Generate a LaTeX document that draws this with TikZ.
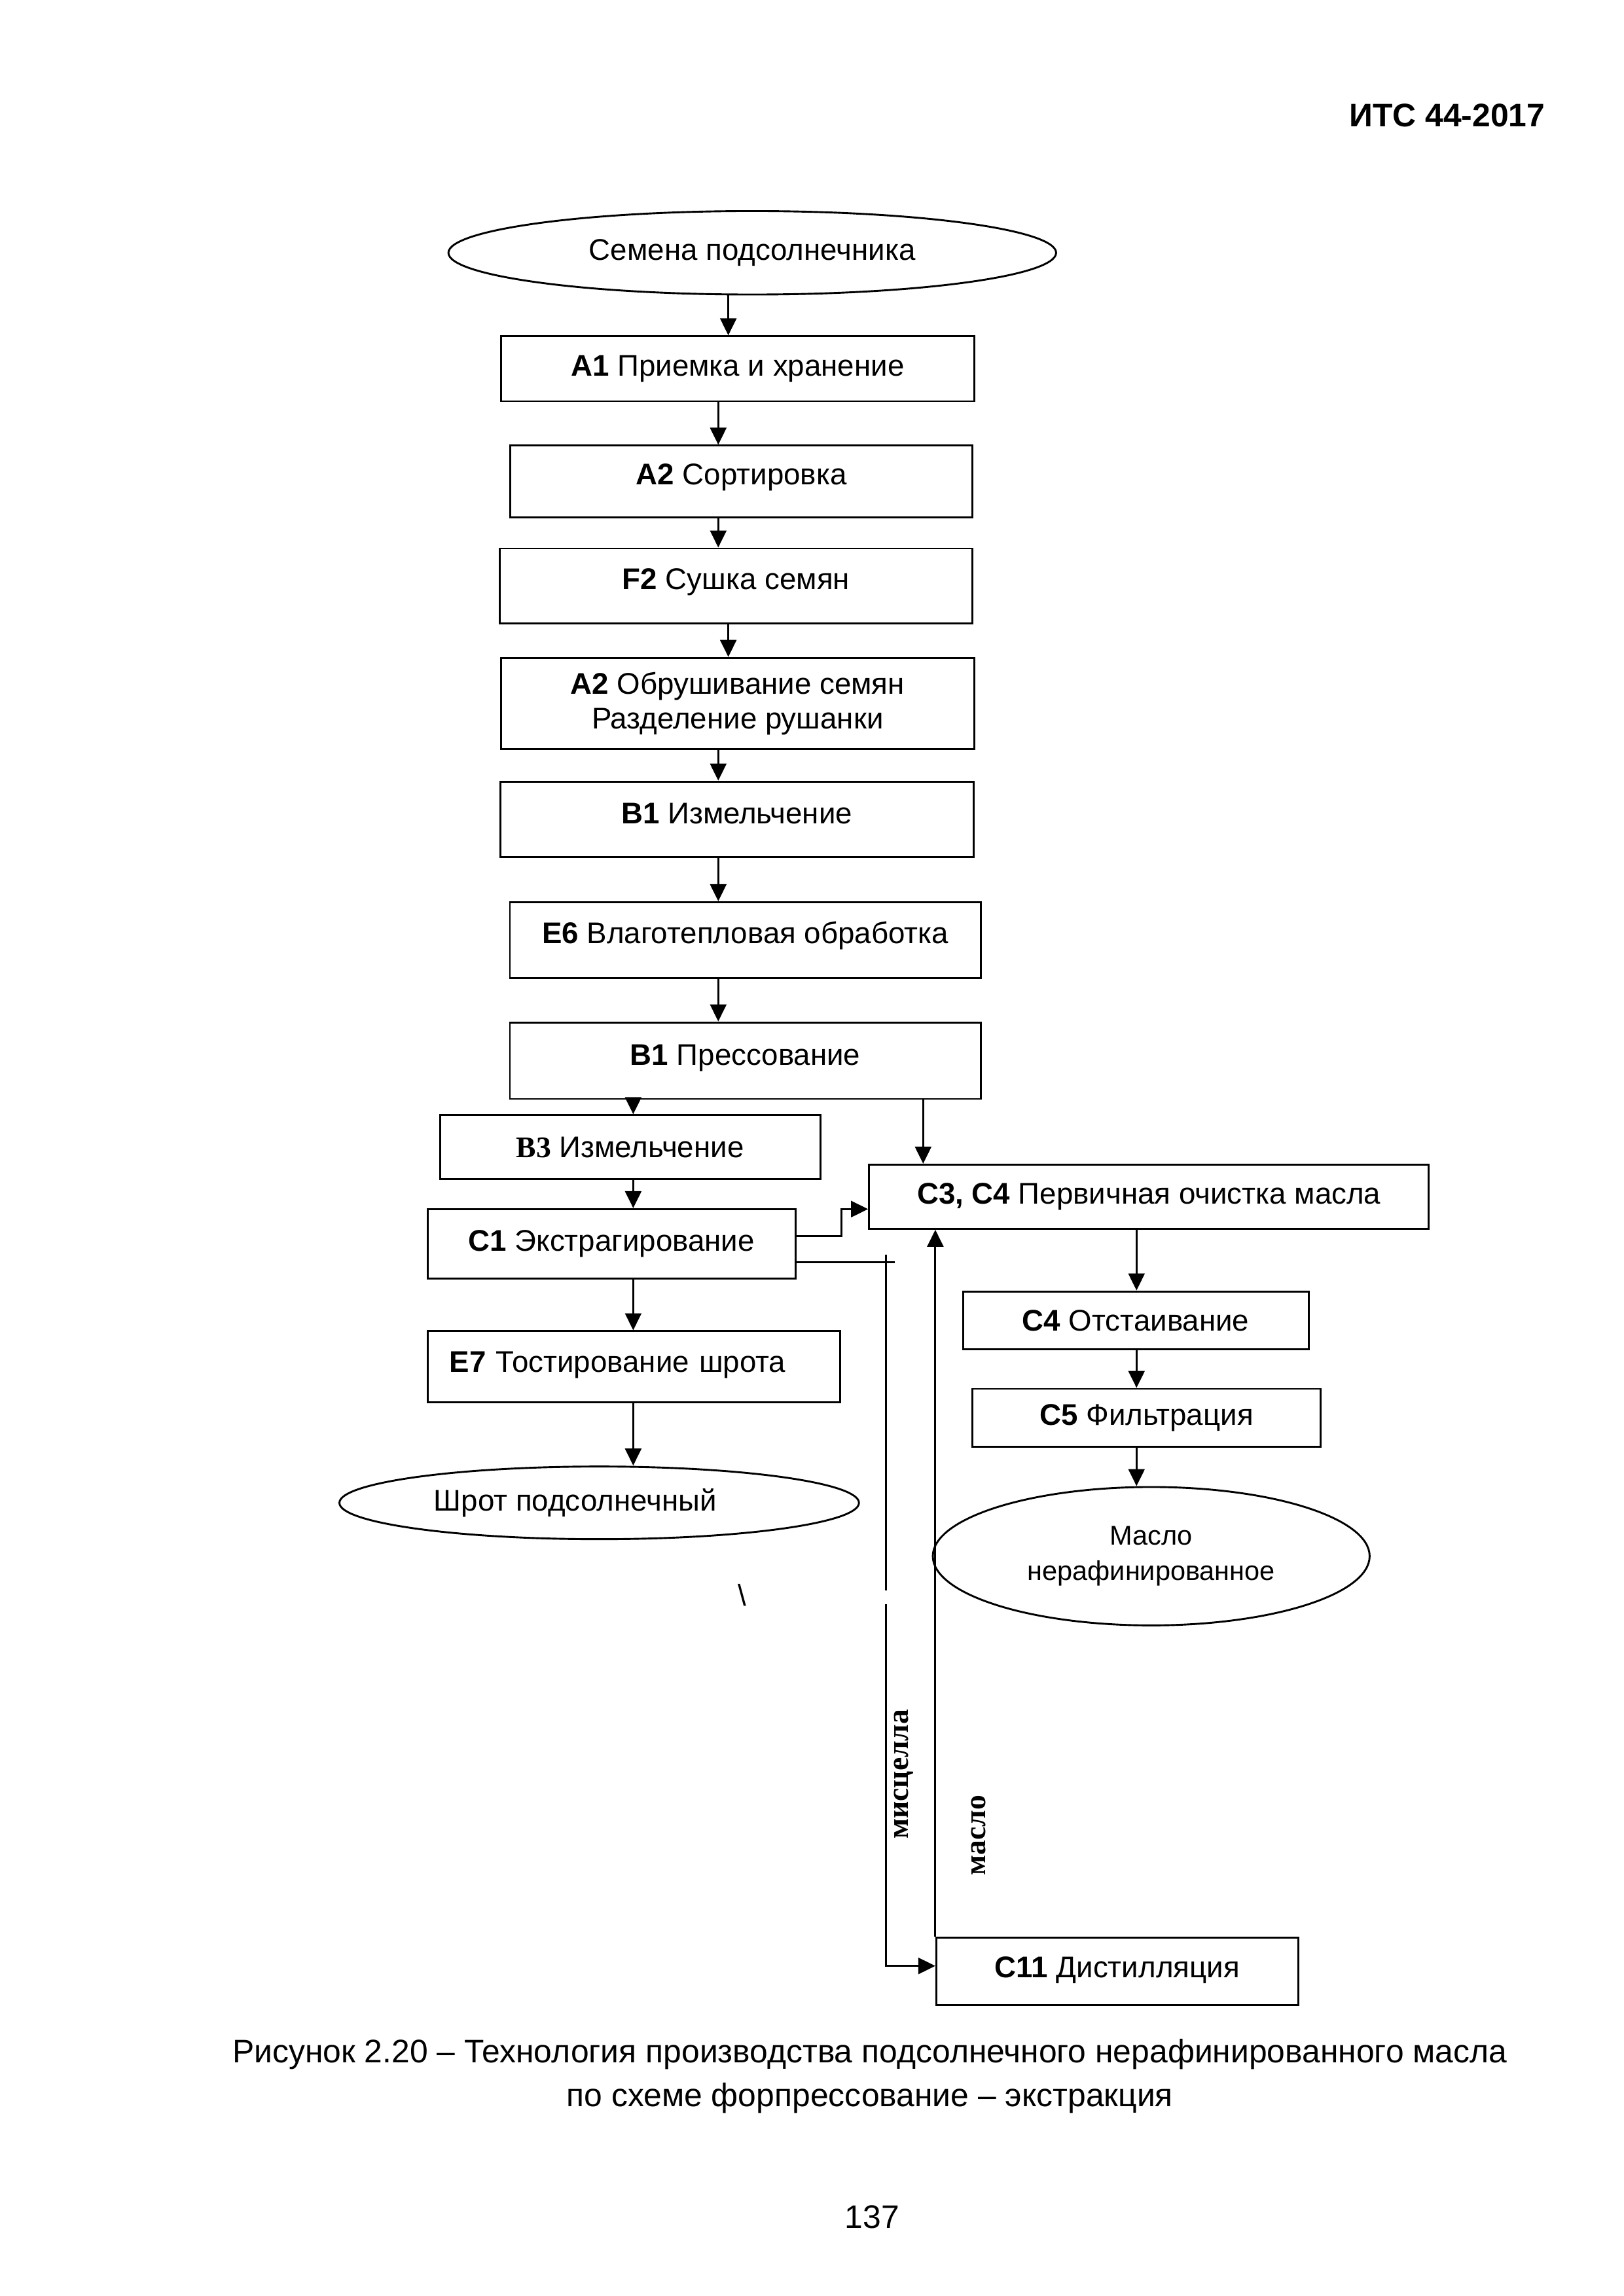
\documentclass[tikz,border=0pt]{standalone}
\usepackage{fontspec}
\setmainfont{Liberation Sans}
\newfontfamily\timesfont{Liberation Serif}
\usetikzlibrary{arrows.meta,shapes.geometric}

\begin{document}
\begin{tikzpicture}[x=1cm,y=1cm]
\tikzset{
  procnode/.style={rectangle,draw=black,line width=0.7pt,inner sep=1pt,align=center,font=\fontsize{11}{12.7}\selectfont},
  uptext/.style 2 args={text height=#1,text depth=#2},
  termnode/.style={ellipse,draw=black,line width=0.7pt,inner sep=0pt,align=center,font=\fontsize{11}{12.7}\selectfont},
  flowline/.style={draw=black,line width=0.7pt,line cap=rect},
  flowarrow/.style={draw=black,line width=0.7pt,-{Triangle[length=2.2mm,width=2.1mm]}},
  sidelabel/.style={rotate=90,anchor=base,inner sep=0pt,font=\timesfont\bfseries\fontsize{11}{13}\selectfont},
  pagetext/.style={inner sep=0pt,font=\fontsize{12}{14}\selectfont}
}
\useasboundingbox (0,0) rectangle (21,-29.7);
\node[pagetext,anchor=base east,font=\bfseries\fontsize{12}{14}\selectfont] (n_head) at (19.99,-1.64) {ИТС 44-2017};
% main column
\node[termnode,minimum width=7.86cm,minimum height=1.08cm] (n_seeds) at (9.73,-3.27) {Семена подсолнечника};
\node[procnode,minimum width=6.12cm,minimum height=0.84cm] (n_A1) at (9.54,-4.77) {\textbf{A1} Приемка и хранение};
\node[procnode,minimum width=5.98cm,minimum height=0.93cm,uptext={4.68mm}{3.92mm}] (n_A2s) at (9.59,-6.23) {\textbf{A2} Сортировка};
\node[procnode,minimum width=6.11cm,minimum height=0.97cm,uptext={4.94mm}{4.06mm}] (n_F2) at (9.52,-7.58) {\textbf{F2} Сушка семян};
\node[procnode,minimum width=6.12cm,minimum height=1.18cm] (n_A2h) at (9.54,-9.10) {\textbf{A2} Обрушивание семян\\Разделение рушанки};
\node[procnode,minimum width=6.12cm,minimum height=0.98cm,uptext={5.11mm}{3.99mm}] (n_B1c) at (9.53,-10.60) {\textbf{B1} Измельчение};
\node[procnode,minimum width=6.09cm,minimum height=0.98cm,uptext={5.02mm}{4.08mm}] (n_E6) at (9.64,-12.16) {\textbf{E6} Влаготепловая обработка};
\node[procnode,minimum width=6.09cm,minimum height=0.99cm,uptext={5.19mm}{4.01mm}] (n_B1p) at (9.64,-13.72) {\textbf{B1} Прессование};
% meal branch
\node[procnode,minimum width=4.92cm,minimum height=0.83cm] (n_B3) at (8.15,-14.84) {{\timesfont\bfseries B3} Измельчение};
\node[procnode,minimum width=4.76cm,minimum height=0.90cm] (n_C1) at (7.91,-16.09) {\textbf{C1} Экстрагирование};
\node[procnode,minimum width=5.34cm,minimum height=0.92cm,inner xsep=0.285cm,text width=4.77cm,align=left,uptext={4.94mm}{3.56mm}] (n_E7) at (8.20,-17.68) {\textbf{E7} Тостирование шрота};
\node[termnode,minimum width=6.72cm,minimum height=0.94cm] (n_meal) at (7.75,-19.44) {Шрот подсолнечный\hspace*{0.62cm}};
% oil branch
\node[procnode,minimum width=7.24cm,minimum height=0.83cm] (n_C3C4) at (14.86,-15.48) {\textbf{C3, C4} Первичная очистка масла};
\node[procnode,minimum width=4.47cm,minimum height=0.75cm] (n_C4) at (14.69,-17.08) {\textbf{C4} Отстаивание};
\node[procnode,minimum width=4.50cm,minimum height=0.75cm] (n_C5) at (14.83,-18.34) {\textbf{C5} Фильтрация};
\node[termnode,minimum width=5.65cm,minimum height=1.79cm,font=\fontsize{10}{13}\selectfont] (n_oil) at (14.89,-20.13) {Масло\\нерафинированное};
\node[procnode,minimum width=4.68cm,minimum height=0.87cm,uptext={4.77mm}{3.23mm}] (n_C11) at (14.45,-25.50) {\textbf{C11} Дистилляция};
\node[sidelabel] (l_misc) at (11.75,-22.95) {мисцелла};
\node[sidelabel] (l_oil) at (12.75,-23.74) {масло};
\node[font=\fontsize{11}{13}\selectfont] (n_mark) at (9.60,-20.63) {\textbackslash};
% columns for the arrows
\coordinate (colA) at (9.42,0);
\coordinate (colB) at (9.29,0);
\coordinate (colC) at (8.19,0);
\coordinate (colD) at (11.94,0);
\coordinate (colE) at (14.70,0);
\draw[flowarrow] (n_seeds.south -| colA) -- (n_A1.north -| colA);
\draw[flowarrow] (n_A1.south -| colB) -- (n_A2s.north -| colB);
\draw[flowarrow] (n_A2s.south -| colB) -- (n_F2.north -| colB);
\draw[flowarrow] (n_F2.south -| colA) -- (n_A2h.north -| colA);
\draw[flowarrow] (n_A2h.south -| colB) -- (n_B1c.north -| colB);
\draw[flowarrow] (n_B1c.south -| colB) -- (n_E6.north -| colB);
\draw[flowarrow] (n_E6.south -| colB) -- (n_B1p.north -| colB);
\draw[flowarrow] (n_B1p.south -| colC) -- (n_B3.north -| colC);
\draw[flowarrow] (n_B3.south -| colC) -- (n_C1.north -| colC);
\draw[flowarrow] (n_C1.south -| colC) -- (n_E7.north -| colC);
\draw[flowarrow] (n_E7.south -| colC) -- (n_meal.north -| colC);
\draw[flowarrow] (n_B1p.south -| colD) -- (n_C3C4.north -| colD);
\draw[flowarrow] (n_C3C4.south -| colE) -- (n_C4.north -| colE);
\draw[flowarrow] (n_C4.south -| colE) -- (n_C5.north -| colE);
\draw[flowarrow] (n_C5.south -| colE) -- (n_oil.north -| colE);
% extraction to oil cleaning
\coordinate (j1) at (10.88,-15.99);
\coordinate (j2) at (10.88,-15.64);
\draw[flowarrow] (n_C1.east |- j1) -- (j1) -- (j2) -- (n_C3C4.west |- j2);
% miscella to distillation
\coordinate (m0) at (11.56,-16.33);
\coordinate (m1) at (11.46,-16.24);
\coordinate (m2) at (11.46,-20.56);
\coordinate (m3) at (11.46,-20.75);
\coordinate (m4) at (11.46,-25.43);
\draw[flowline] (n_C1.east |- m0) -- (m0);
\draw[flowline] (m1) -- (m2);
\draw[flowarrow] (m3) -- (m4) -- (n_C11.west |- m4);
% oil back from distillation
\draw[flowarrow] (n_C11.north west) -- (n_C3C4.south -| n_C11.north west);
% caption
\node[pagetext,anchor=base] (n_cap1) at (11.25,-26.68) {Рисунок 2.20 – Технология производства подсолнечного нерафинированного масла};
\node[pagetext,anchor=base] (n_cap2) at (11.25,-27.25) {по схеме форпрессование – экстракция};
\node[pagetext,anchor=base] (n_page) at (11.28,-28.82) {137};
\end{tikzpicture}
\end{document}
